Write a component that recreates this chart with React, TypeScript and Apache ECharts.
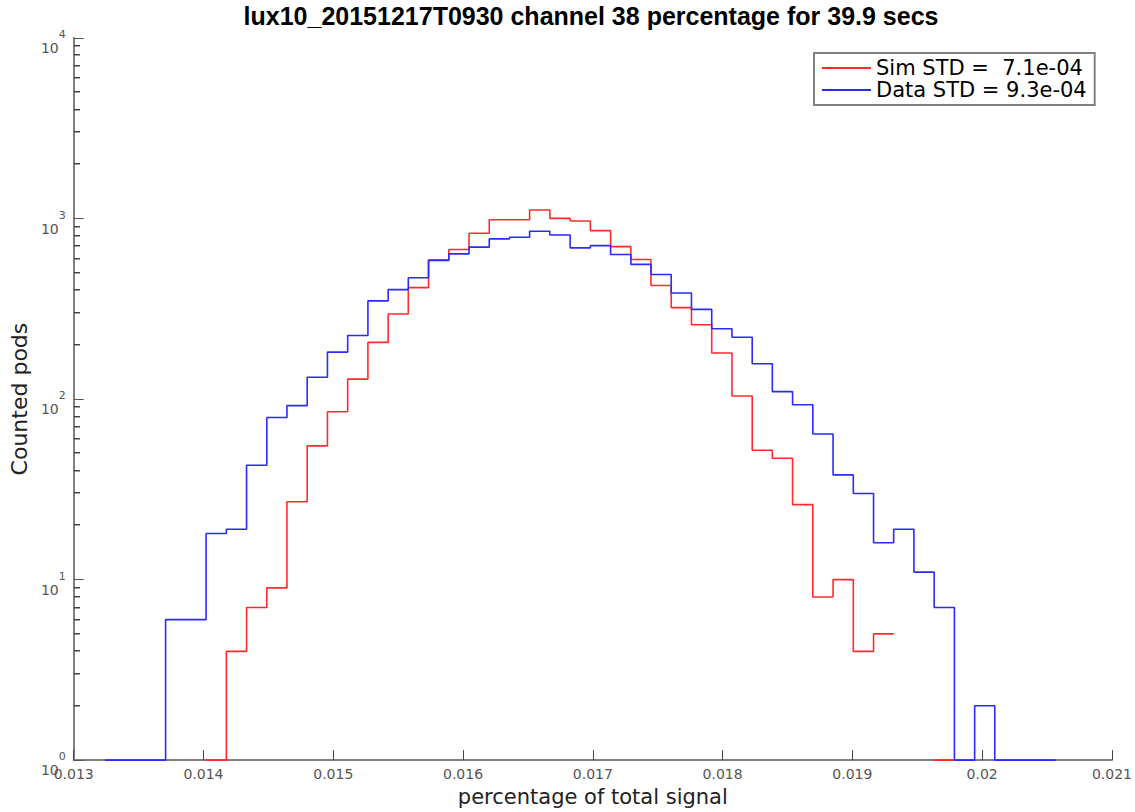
import React, { useEffect, useRef } from "react";
import * as echarts from "echarts";

// Histogram bin edges (fraction of total signal)
const binEdges = [
  0.013241, 0.013397, 0.013553, 0.013708, 0.013864, 0.01402, 0.014176, 0.014332,
  0.014488, 0.014643, 0.014799, 0.014955, 0.015111, 0.015267, 0.015423, 0.015578,
  0.015734, 0.01589, 0.016046, 0.016202, 0.016358, 0.016513, 0.016669, 0.016825,
  0.016981, 0.017137, 0.017293, 0.017448, 0.017604, 0.01776, 0.017916, 0.018072,
  0.018228, 0.018383, 0.018539, 0.018695, 0.018851, 0.019007, 0.019163, 0.019318,
  0.019474, 0.01963, 0.019786, 0.019942, 0.020097, 0.020253, 0.020409, 0.020565,
];

// Counts per bin (0 = empty bin, not drawn on log axis)
const simCounts = [
  0, 0, 0, 0, 0, 1, 4, 7, 9, 27, 55, 85, 129, 206, 296, 414, 590, 673, 828, 985,
  985, 1114, 1002, 969, 857, 699, 593, 426, 321, 258, 180, 104, 52, 47, 26, 8, 10,
  4, 5, 0, 0, 1, 0, 0, 0, 0, 0,
];
const dataCounts = [
  1, 1, 1, 6, 6, 18, 19, 43, 79, 92, 132, 182, 225, 350, 404, 470, 586, 637, 694,
  771, 788, 850, 811, 688, 708, 632, 557, 490, 387, 314, 245, 220, 157, 110, 93, 64,
  38, 30, 16, 19, 11, 7, 1, 2, 1, 1, 1,
];

const seriesNames = ["Sim STD =  7.1e-04", "Data STD = 9.3e-04"];
const titleText = "lux10_20151217T0930 channel 38 percentage for 39.9 secs";
const xAxisName = "percentage of total signal";
const yAxisName = "Counted pods";
const xMin = 0.013;
const xMax = 0.021;
const xInterval = 0.001;
const yMin = 1;
const yMax = 10000;
// Minor log ticks (2..9 x 10^n)
const minorTickValues = [
  2, 3, 4, 5, 6, 7, 8, 9, 20, 30, 40, 50, 60, 70, 80, 90, 200, 300, 400, 500, 600,
  700, 800, 900, 2000, 3000, 4000, 5000, 6000, 7000, 8000, 9000,
];

function stairs(counts: number[]) {
  const pts: any[] = [];
  counts.forEach((c, k) => {
    if (c > 0) {
      pts.push([binEdges[k], c], [binEdges[k + 1], c]);
    } else if (pts.length && pts[pts.length - 1][1] !== "-") {
      pts.push([binEdges[k], "-"]);
    }
  });
  return pts;
}

const FONT = "DejaVu Sans";
const AXIS_GRAY = "#808080";
const LABEL_GRAY = "#555555";

export default function App() {
  const ref = useRef<HTMLDivElement>(null);
  useEffect(() => {
    if (!ref.current) return;
    const chart = echarts.init(ref.current, undefined, { renderer: "svg" });
    const option: any = {
      animation: false,
      backgroundColor: "#ffffff",
      grid: { left: 70, right: 22, top: 38, bottom: 48, containLabel: false },
      graphic: [
        {
          type: "text",
          x: 591,
          y: 16,
          style: {
            text: titleText,
            textAlign: "center",
            textVerticalAlign: "middle",
            fontFamily: "Liberation Sans",
            fontWeight: "bold",
            fontSize: 25,
            fill: "#000",
          },
        },
      ],
      legend: {
        data: seriesNames,
        orient: "vertical",
        left: 814,
        top: 53,
        padding: [4, 8, 4, 8],
        itemGap: 0,
        itemWidth: 49,
        itemHeight: 2,
        icon: "rect",
        selectedMode: false,
        borderColor: AXIS_GRAY,
        borderWidth: 2,
        backgroundColor: "#fff",
        textStyle: { fontFamily: FONT, fontSize: 21, color: "#000", lineHeight: 22 },
      },
      xAxis: {
        type: "value",
        min: xMin,
        max: xMax,
        interval: xInterval,
        name: xAxisName,
        nameLocation: "middle",
        nameGap: 24,
        nameTextStyle: { fontFamily: FONT, fontSize: 21, color: "#222" },
        axisLine: { show: true, lineStyle: { color: AXIS_GRAY, width: 2 } },
        axisTick: { show: true, inside: true, length: 10, lineStyle: { color: "#444", width: 1 } },
        axisLabel: {
          margin: 7,
          fontFamily: FONT,
          fontSize: 14,
          color: LABEL_GRAY,
          formatter: (v: number) => String(parseFloat(v.toFixed(3))),
        },
        splitLine: { show: false },
      },
      yAxis: {
        type: "log",
        logBase: 10,
        min: yMin,
        max: yMax,
        name: yAxisName,
        nameLocation: "middle",
        nameGap: 39,
        nameTextStyle: { fontFamily: FONT, fontSize: 22, color: "#222" },
        axisLine: { show: true, lineStyle: { color: AXIS_GRAY, width: 2 } },
        axisTick: { show: true, inside: true, length: 10, lineStyle: { color: "#555", width: 1 } },
        axisLabel: {
          margin: 8,
          formatter: (v: number) => `{a|10}{s|${Math.round(Math.log10(v))}}`,
          rich: {
            a: { fontFamily: FONT, fontSize: 14, color: LABEL_GRAY, lineHeight: 16, padding: [20, 0, 0, 0] },
            s: { fontFamily: FONT, fontSize: 11, color: LABEL_GRAY, lineHeight: 12, padding: [0, 0, 7, 0] },
          },
        },
        splitLine: { show: false },
        minorTick: { show: false },
      },
      series: [
        {
          type: "line",
          name: seriesNames[0],
          data: stairs(simCounts),
          symbol: "none",
          showSymbol: false,
          connectNulls: false,
          clip: false,
          silent: true,
          lineStyle: { color: "#ff2b2b", width: 1.6 },
          itemStyle: { color: "#ff2b2b" },
        },
        {
          type: "line",
          name: seriesNames[1],
          data: stairs(dataCounts),
          symbol: "none",
          showSymbol: false,
          connectNulls: false,
          clip: false,
          silent: true,
          lineStyle: { color: "#2b2bff", width: 1.6 },
          itemStyle: { color: "#2b2bff" },
        },
        {
          // minor log ticks on the left axis, positioned through the axis scales
          type: "custom",
          name: "minorTicks",
          coordinateSystem: "cartesian2d",
          data: minorTickValues.map((v) => [xMin + xInterval, v]),
          silent: true,
          clip: false,
          z: 5,
          renderItem: (params: any, api: any) => {
            const p = api.coord([xMin, api.value(1)]);
            return {
              type: "rect",
              shape: { x: Math.round(p[0]), y: Math.round(p[1]) - 1, width: 6, height: 1.5 },
              style: { fill: "#444" },
            };
          },
        },
      ],
    };
    chart.setOption(option);
    return () => chart.dispose();
  }, []);
  return (
    <div
      ref={ref}
      style={{ position: "fixed", left: 0, top: 0, width: 1135, height: 812, background: "#fff" }}
    />
  );
}
